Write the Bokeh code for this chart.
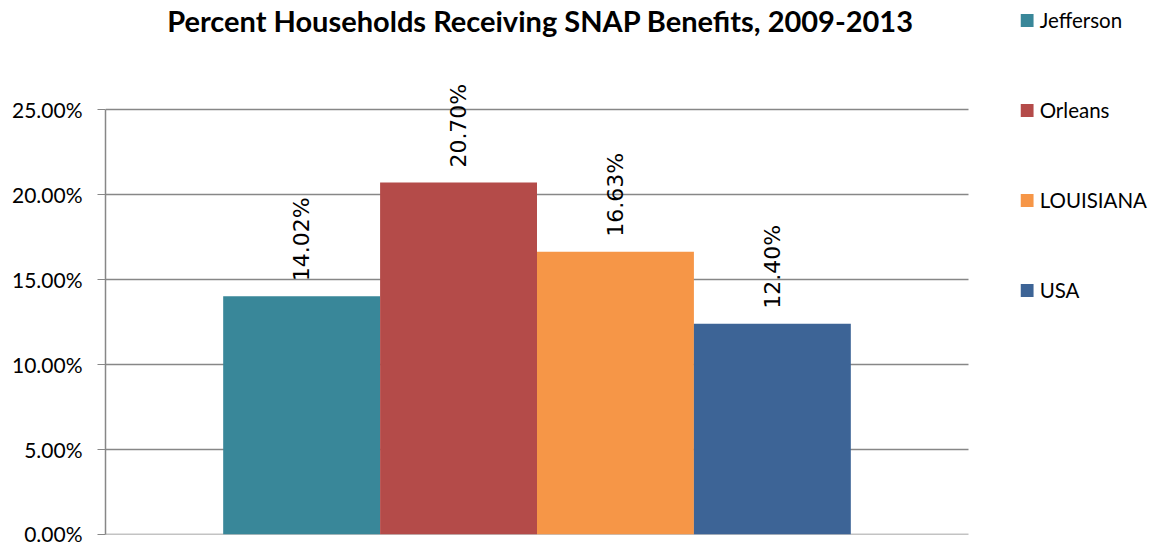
from bokeh.plotting import figure
from bokeh.models import Range1d, ColumnDataSource, LabelSet, Label, Legend, LegendItem, PrintfTickFormatter, FixedTicker
from bokeh.core.properties import value
from bokeh.embed import file_html
from bokeh.resources import INLINE
import math

# ---- data ----
title_text = "Percent Households Receiving SNAP Benefits, 2009-2013"
areas = ["Jefferson", "Orleans", "LOUISIANA", "USA"]
values = [14.02, 20.70, 16.63, 12.40]
colors = ["#398799", "#B44B49", "#F69647", "#3D6496"]
y_ticks = [0, 5, 10, 15, 20, 25]

xs = [1.25 + i for i in range(len(areas))]
labels = [f"{v:.2f}%" for v in values]
src = ColumnDataSource(dict(x=xs, top=values, color=colors, area=areas, label=labels))

W, H = 1152, 545
plot_left, plot_right = 105, 968          # plot area (grid extent) in pixels
frame_top_px, frame_bottom_px = 109, 534  # where 25% and 0% sit
x_plot_end = 5.5
px_per_x = (plot_right - plot_left) / x_plot_end
x_max = (W - plot_left) / px_per_x
y_max = 25 * frame_bottom_px / (frame_bottom_px - frame_top_px)

p = figure(width=W, height=H, output_backend="svg", toolbar_location=None,
           x_range=Range1d(0, x_max), y_range=Range1d(0, y_max), x_axis_type=None,
           min_border_left=plot_left, min_border_right=0, min_border_top=0,
           min_border_bottom=H - frame_bottom_px)
p.outline_line_color = None
p.background_fill_color = "white"
p.border_fill_color = "white"
p.ygrid.grid_line_color = None

# horizontal gridlines limited to the plot area
p.segment(x0=[0] * len(y_ticks), x1=[x_plot_end] * len(y_ticks), y0=y_ticks, y1=y_ticks,
          line_color="#878787", line_width=1.5)

renderers = []
for i in range(len(areas)):
    r = p.vbar(x=xs[i], top=values[i], width=1.0, bottom=0, fill_color=colors[i], line_color=None)
    renderers.append(r)

lbl = LabelSet(x="x", y="top", text="label", source=src, angle=math.pi / 2,
               text_align="left", text_baseline="middle", y_offset=15,
               text_font=value("DejaVu Sans"), text_font_size="22px", text_color="black")
p.add_layout(lbl)

title = Label(x=(540 - plot_left), y=frame_bottom_px - 2, x_units="screen", y_units="screen",
              text=title_text, text_align="center", text_baseline="top",
              text_font="Lato", text_font_style="bold", text_font_size="29px", text_color="black")
p.add_layout(title)

ax = p.yaxis[0]
ax.ticker = FixedTicker(ticks=y_ticks)
ax.bounds = (0, 25)
ax.formatter = PrintfTickFormatter(format="%.2f%%")
ax.major_label_text_font = "Lato"
ax.major_label_text_font_size = "21px"
ax.major_label_text_color = "black"
ax.major_tick_in = 0
ax.major_tick_out = 8
ax.minor_tick_out = 0
ax.minor_tick_in = 0
ax.axis_line_color = "#878787"
ax.major_tick_line_color = "#878787"
ax.axis_line_width = 1.5
ax.major_label_standoff = 15

legend = Legend(items=[LegendItem(label=areas[i], renderers=[renderers[i]]) for i in range(len(areas))],
                location="top_right", orientation="vertical",
                label_text_font="Lato", label_text_font_size="20.5px", label_text_color="black",
                glyph_width=16, glyph_height=16, label_height=30, spacing=60,
                label_standoff=5, padding=0, margin=5,
                border_line_color=None, background_fill_alpha=0)
p.add_layout(legend, "center")

open("out.html", "w").write(file_html(p, INLINE))
